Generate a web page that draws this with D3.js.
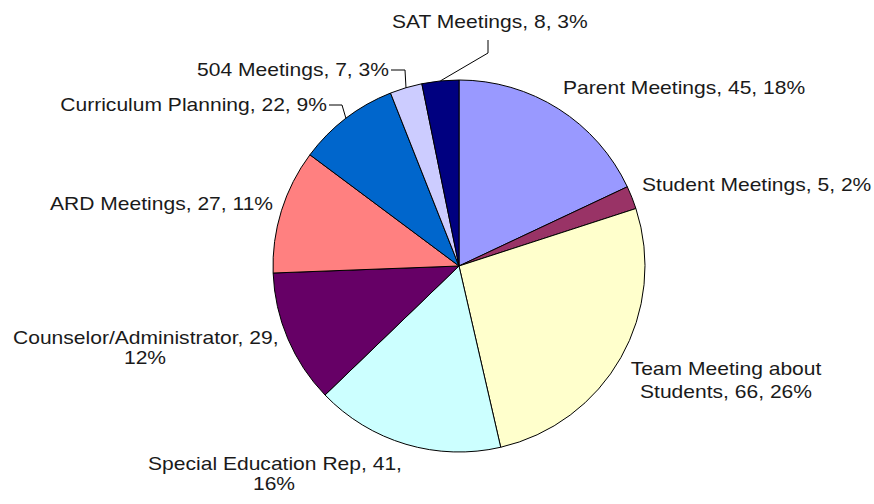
<!DOCTYPE html>
<html>
<head>
<meta charset="utf-8">
<script src="https://cdn.jsdelivr.net/npm/d3@7"></script>
<style>
  html, body { margin: 0; padding: 0; background: #ffffff; }
  svg { display: block; }
  text { font-family: "Liberation Sans", Arial, sans-serif; fill: #1a1a1a; }
</style>
</head>
<body>
<svg id="chart" width="874" height="504"></svg>
<script>
// ---- data ----
const categories = ["Parent Meetings", "Student Meetings", "Team Meeting about Students",
  "Special Education Rep", "Counselor/Administrator", "ARD Meetings",
  "Curriculum Planning", "504 Meetings", "SAT Meetings"];
const values = [45, 5, 66, 41, 29, 27, 22, 7, 8];
const colors = ["#9999FF", "#993366", "#FFFFCC", "#CCFFFF", "#660066", "#FF8080",
  "#0066CC", "#CCCCFF", "#000080"];

// ---- layout (label placement) ----
const labelLayout = [
  { lines: [{ x: 563, y: 93.5, a: "start" }] },
  { lines: [{ x: 642, y: 191, a: "start" }] },
  { split: "Team Meeting about|Students", lines: [{ x: 726, y: 374.5, a: "middle" }, { x: 726, y: 397.5, a: "middle" }] },
  { split: "Special Education Rep|", lines: [{ x: 275, y: 469.5, a: "middle" }, { x: 274, y: 490, a: "middle" }] },
  { split: "Counselor/Administrator|", lines: [{ x: 13, y: 343.5, a: "start" }, { x: 145, y: 363.5, a: "middle" }] },
  { lines: [{ x: 50, y: 209.5, a: "start" }] },
  { lines: [{ x: 327, y: 111, a: "end" }], leader: [[329, 105], [342, 105]] },
  { lines: [{ x: 389, y: 76, a: "end" }], leader: [[391, 70], [405, 70]] },
  { lines: [{ x: 392, y: 28, a: "start" }], leader: [[488, 40], [488, 53]] }
];
const fontSize = 18, stretchX = 1.17;

const cx = 459, cy = 266, R = 186;
const total = d3.sum(values);
const svg = d3.select("#chart");
const g = svg.append("g").attr("transform", `translate(${cx},${cy})`);

const pie = d3.pie().sort(null).value(d => d.value).startAngle(0).endAngle(2 * Math.PI);
const data = categories.map((c, i) => ({ name: c, value: values[i], color: colors[i], layout: labelLayout[i] }));
const arcs = pie(data);
const arc = d3.arc().innerRadius(0).outerRadius(R);
const edgeArc = d3.arc().innerRadius(R).outerRadius(R);

g.selectAll("path.slice").data(arcs).enter().append("path")
  .attr("class", "slice")
  .attr("d", arc)
  .attr("fill", d => d.data.color)
  .attr("stroke", "#000")
  .attr("stroke-width", 1)
  .attr("stroke-linejoin", "round");

// leader lines
arcs.forEach(a => {
  const L = a.data.layout.leader;
  if (!L) return;
  const edge = edgeArc.centroid(a);
  const pts = L.map(p => [p[0], p[1]]).concat([[edge[0] + cx, edge[1] + cy]]);
  svg.append("path")
    .attr("d", d3.line()(pts))
    .attr("fill", "none")
    .attr("stroke", "#000")
    .attr("stroke-width", 1);
});

// labels
arcs.forEach(a => {
  const d = a.data;
  const pct = Math.round(d.value / total * 100);
  const full = `${d.name}, ${d.value}, ${pct}%`;
  let texts;
  if (d.layout.split) {
    const [first, second] = d.layout.split.split("|");
    if (second.length) {
      texts = [first, full.slice(first.length + 1)];
    } else {
      texts = [`${d.name}, ${d.value},`, `${pct}%`];
    }
  } else {
    texts = [full];
  }
  texts.forEach((t, i) => {
    const ln = d.layout.lines[i];
    svg.append("text")
      .attr("transform", `translate(${ln.x},${ln.y}) scale(${stretchX},1)`)
      .attr("text-anchor", ln.a)
      .attr("font-size", fontSize)
      .text(t);
  });
});
</script>
</body>
</html>
